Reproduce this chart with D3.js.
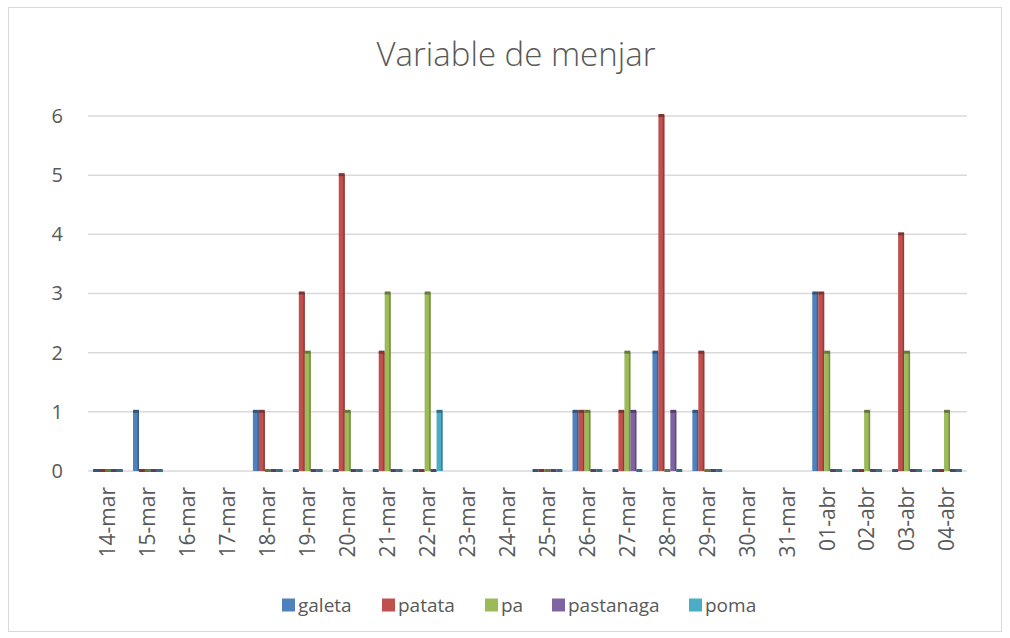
<!DOCTYPE html>
<html>
<head>
<meta charset="utf-8">
<script src="https://cdn.jsdelivr.net/npm/d3@7"></script>
<style>
  body { margin: 0; background: #fff; }
  text { font-family: "Open Sans", sans-serif; fill: #595959; }
</style>
</head>
<body>
<svg id="chart" width="1010" height="638"></svg>
<script>
const dates = ["14-mar", "15-mar", "16-mar", "17-mar", "18-mar", "19-mar", "20-mar", "21-mar",
    "22-mar", "23-mar", "24-mar", "25-mar", "26-mar", "27-mar", "28-mar", "29-mar",
    "30-mar", "31-mar", "01-abr", "02-abr", "03-abr", "04-abr"];
const seriesNames = ["galeta", "patata", "pa", "pastanaga", "poma"];
const seriesColors = ["#4F81BD", "#C0504D", "#9BBB59", "#8064A2", "#4BACC6"];
const yTicks = [0, 1, 2, 3, 4, 5, 6];

// null = no data that day
const galeta    = [0, 1, null, null, 1, 0, 0, 0, 0, null, null, 0, 1, 0, 2, 1, null, null, 3, 0, 0, 0];
const patata    = [0, 0, null, null, 1, 3, 5, 2, 0, null, null, 0, 1, 1, 6, 2, null, null, 3, 0, 4, 0];
const pa        = [0, 0, null, null, 0, 2, 1, 3, 3, null, null, 0, 1, 2, 0, 0, null, null, 2, 1, 2, 1];
const pastanaga = [0, 0, null, null, 0, 0, 0, 0, 0, null, null, 0, 0, 1, 1, 0, null, null, 0, 0, 0, 0];
const poma      = [0, 0, null, null, 0, 0, 0, 0, 1, null, null, 0, 0, 0, 0, 0, null, null, 0, 0, 0, 0];
const seriesValues = [galeta, patata, pa, pastanaga, poma];

const svg = d3.select("#chart");
const margin = { top: 116, right: 43, bottom: 167, left: 88 };
const width = 1010 - margin.left - margin.right;
const height = 638 - margin.top - margin.bottom;

// outer chart border
svg.append("rect")
    .attr("x", 8.5).attr("y", 7.5)
    .attr("width", 993).attr("height", 624)
    .attr("fill", "none")
    .attr("stroke", "#d9d9d9");

svg.append("text")
    .attr("x", 516)
    .attr("y", 66)
    .attr("text-anchor", "middle")
    .style("font-size", "33px")
    .style("font-weight", 300)
    .text("Variable de menjar");

const x = d3.scaleBand()
    .domain(dates)
    .range([0, width])
    .padding(0);

const xs = d3.scaleBand()
    .domain(seriesNames)
    .range([0, x.bandwidth()])
    .paddingOuter(0.85)
    .paddingInner(0);

const y = d3.scaleLinear()
    .domain([0, 6])
    .range([height, 0]);

const g = svg.append("g")
    .attr("transform", `translate(${margin.left},${margin.top})`);

// gridlines
g.append("g")
    .selectAll("line")
    .data(yTicks)
    .enter().append("line")
    .attr("x1", 0).attr("x2", width)
    .attr("y1", d => y(d)).attr("y2", d => y(d))
    .attr("stroke", "#d9d9d9")
    .attr("stroke-width", 1.5);

// y axis labels
g.append("g")
    .call(d3.axisLeft(y).tickValues(yTicks).tickFormat(d3.format("d")).tickSize(0).tickPadding(25))
    .call(a => a.select(".domain").remove())
    .selectAll("text")
    .style("font-size", "20px")
    .attr("fill", "#595959");

// x axis labels
g.append("g")
    .attr("transform", `translate(0,${height})`)
    .call(d3.axisBottom(x).tickSize(0))
    .call(a => a.select(".domain").remove())
    .selectAll("text")
    .style("font-size", "21px")
    .attr("fill", "#595959")
    .attr("transform", "rotate(-90)")
    .attr("x", -16)
    .attr("y", 0)
    .attr("dy", "0.35em")
    .style("text-anchor", "end");

// bars
const points = [];
seriesValues.forEach((vals, si) => {
    vals.forEach((v, di) => {
        if (v !== null) points.push({ date: dates[di], series: seriesNames[si], color: seriesColors[si], value: v });
    });
});

const bars = g.append("g").selectAll("g")
    .data(points)
    .enter().append("g");

bars.append("rect")
    .attr("x", d => x(d.date) + xs(d.series))
    .attr("y", d => y(d.value))
    .attr("width", xs.bandwidth())
    .attr("height", d => height - y(d.value))
    .attr("fill", d => d.color);

// darker right edge
bars.append("rect")
    .attr("x", d => x(d.date) + xs(d.series) + xs.bandwidth() - 1.5)
    .attr("y", d => y(d.value))
    .attr("width", 1.5)
    .attr("height", d => height - y(d.value))
    .attr("fill", d => d3.color(d.color).darker(0.8));

// top cap
bars.append("rect")
    .attr("x", d => x(d.date) + xs(d.series))
    .attr("y", d => y(d.value) - 2)
    .attr("width", xs.bandwidth())
    .attr("height", 3)
    .attr("fill", d => d3.color(d.color).darker(1.2));

// legend
const legendX = [282, 382, 485, 552, 689];
const legend = svg.append("g")
    .selectAll("g")
    .data(seriesNames)
    .enter().append("g")
    .attr("transform", (d, i) => `translate(${legendX[i]},605)`);

legend.append("rect")
    .attr("x", 0).attr("y", -6.5)
    .attr("width", 13).attr("height", 13)
    .attr("fill", (d, i) => seriesColors[i]);

legend.append("text")
    .attr("x", 16)
    .attr("y", 0)
    .attr("dy", "0.35em")
    .style("font-size", "19px")
    .text(d => d);
</script>
</body>
</html>
